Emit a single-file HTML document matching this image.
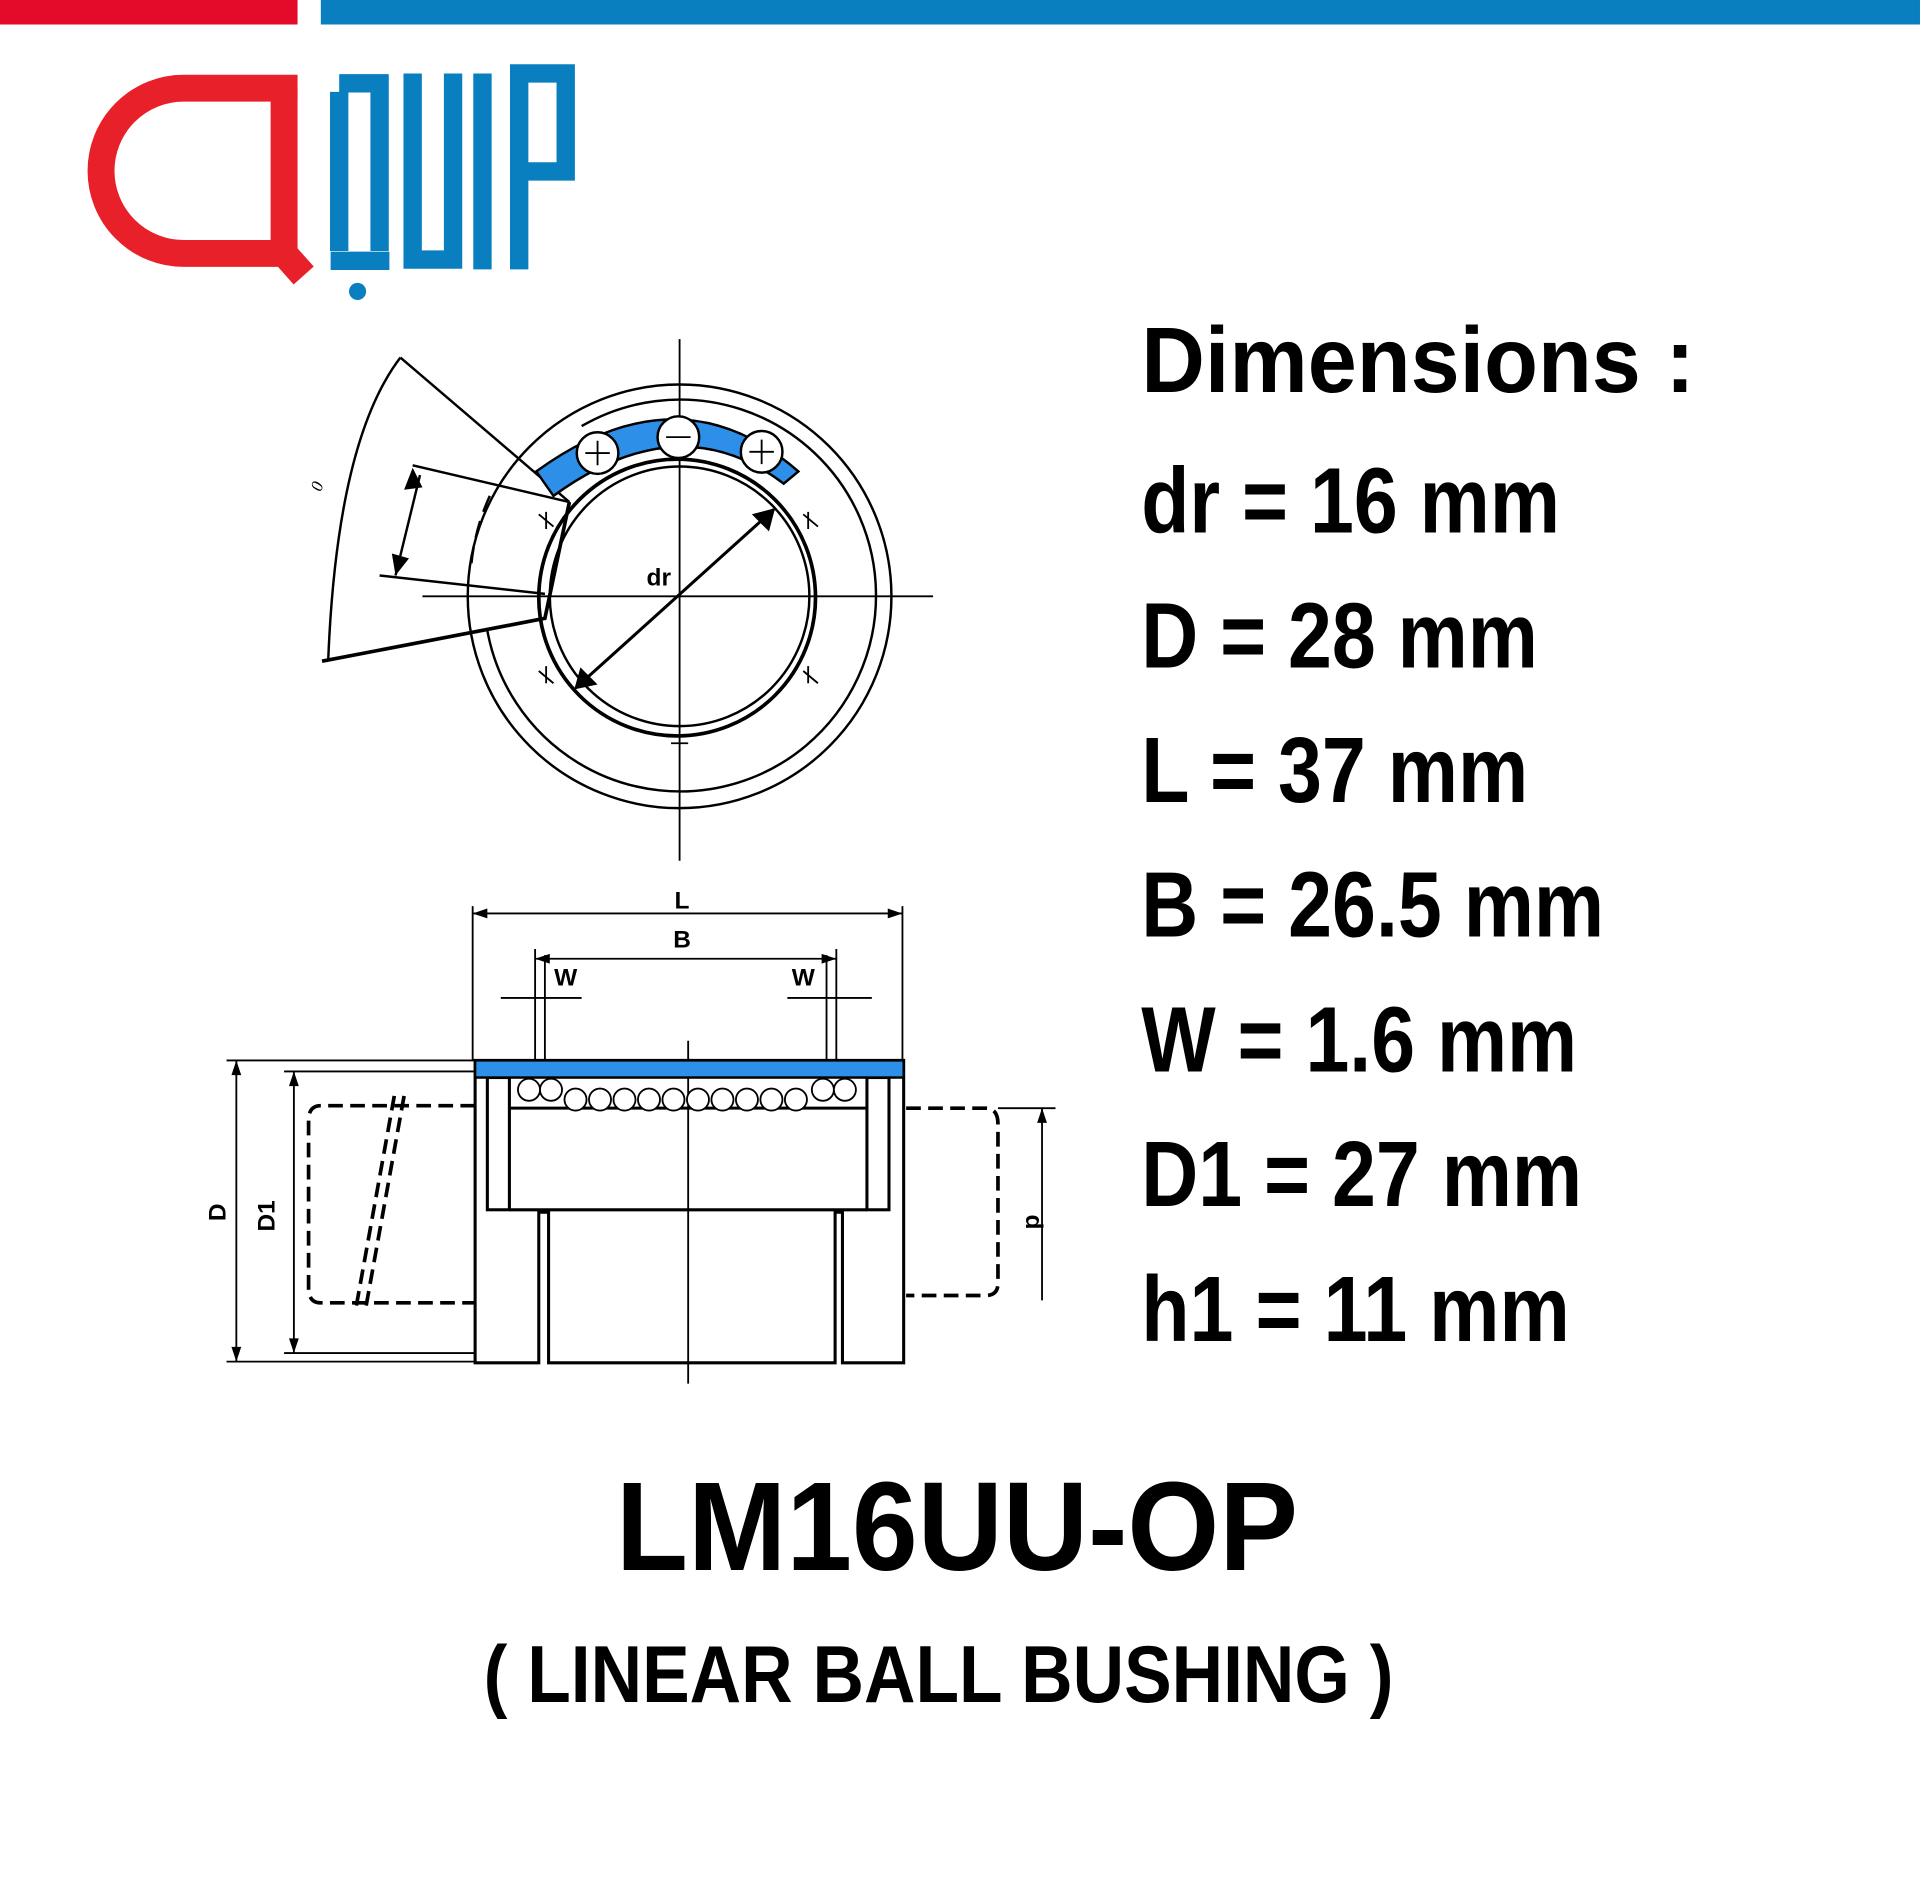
<!DOCTYPE html>
<html><head><meta charset="utf-8"><style>
html,body{margin:0;padding:0;background:#fff;}
svg{display:block}
</style></head><body>
<svg width="1920" height="1901" viewBox="0 0 1568 1552.5" xmlns="http://www.w3.org/2000/svg" font-family="Liberation Sans, sans-serif">
<rect width="1568" height="1552.5" fill="#fff"/>
<rect x="0" y="0" width="243" height="20" fill="#e30a2a"/>
<rect x="262" y="0" width="1306" height="20" fill="#0a7fc0"/>
<path d="M243 72 H150 A66 66 0 0 0 150 207 H232 L248 225" fill="none" stroke="#e8202a" stroke-width="22" stroke-linejoin="miter"/>
<line x1="232" y1="72" x2="232" y2="207" stroke="#e8202a" stroke-width="22"/>
<g fill="none" stroke="#0a7fc0" stroke-width="15">
<path d="M277 75 V205 M277 68 H310 V205 M270 213 H318"/>
<path d="M337 60 V212 H370 V60"/>
<path d="M394 60 V220"/>
<path d="M424 220 V60 H462 V140 H424"/>
</g>
<circle cx="292" cy="238" r="7" fill="#0a7fc0"/>
<g fill="none" stroke="#000" stroke-width="2">
<line x1="555" y1="277" x2="555" y2="703" stroke-width="1.5"/>
<line x1="345" y1="487" x2="762" y2="487" stroke-width="1.5"/>
<circle cx="555" cy="487" r="173"/>
<path d="M475 348 A160 160 0 1 1 398 515"/>
<path d="M400 405 A175 175 0 0 0 385 460" stroke-dasharray="14 8"/>
<circle cx="553" cy="488" r="113" stroke-width="3"/>
<circle cx="555" cy="487" r="106"/>
<path d="M327 292 L465 410"/>
<path d="M327 292 Q275 360 268 540" />
<path d="M263 540 L445 505 L465 410" stroke-width="3"/>
<path d="M337 380 L465 410 M310 470 L445 485"/>
<line x1="343" y1="388" x2="323" y2="470"/>
<line x1="470" y1="562" x2="632" y2="416" stroke-width="2.5"/>
</g>
<polygon points="337,382 330,400 345,398" fill="#000"/>
<polygon points="323,470 320,452 334,456" fill="#000"/>
<polygon points="633,415 628,434 614,420" fill="#000"/>
<polygon points="469,563 474,545 488,559" fill="#000"/>
<path d="M438 385 Q555 300 652 385 L640 395 Q555 330 452 405 Z" fill="#2e8fe8" stroke="#000" stroke-width="2"/>
<g fill="#fff" stroke="#000" stroke-width="2">
<circle cx="488" cy="370" r="17"/><circle cx="554" cy="357" r="17"/><circle cx="622" cy="369" r="17"/>
</g>
<g stroke="#000" stroke-width="1.5">
<path d="M478 370h20M488 360v20M544 357h20M612 369h20M622 359v20"/>
<path d="M440 420l12 10M446 418v14M656 420l12 10M660 418v14M440 548l12 10M446 544v14M656 548l12 10M660 544v14M548 607h14"/>
</g>
<text x="538" y="478" font-size="20" font-weight="bold" text-anchor="middle">dr</text>
<text x="262" y="402" font-size="14" font-style="italic" font-family="Liberation Serif, serif" transform="rotate(-70 262 402)">0</text>
<g fill="none" stroke="#000" stroke-width="1.5">
<line x1="386" y1="740" x2="386" y2="866"/><line x1="737" y1="740" x2="737" y2="866"/>
<line x1="386" y1="746" x2="737" y2="746"/>
<line x1="437" y1="775" x2="437" y2="866"/><line x1="683" y1="775" x2="683" y2="866"/>
<line x1="437" y1="783" x2="683" y2="783"/>
<line x1="409" y1="815" x2="475" y2="815"/><line x1="643" y1="815" x2="712" y2="815"/>
<line x1="445" y1="780" x2="445" y2="866"/><line x1="675" y1="780" x2="675" y2="866"/>
<line x1="562" y1="850" x2="562" y2="1130"/>
<line x1="185" y1="866" x2="388" y2="866"/><line x1="185" y1="1112" x2="388" y2="1112"/>
<line x1="193" y1="866" x2="193" y2="1112"/>
<line x1="232" y1="875" x2="388" y2="875"/><line x1="232" y1="1105" x2="388" y2="1105"/>
<line x1="240" y1="875" x2="240" y2="1105"/>
<line x1="815" y1="905" x2="862" y2="905"/><line x1="851" y1="905" x2="851" y2="1062"/>
</g>
<g fill="#000">
<polygon points="386,746 398,742 398,750"/><polygon points="737,746 725,742 725,750"/>
<polygon points="437,783 449,779 449,787"/><polygon points="683,783 671,779 671,787"/>
<polygon points="193,866 189,878 197,878"/><polygon points="193,1112 189,1100 197,1100"/>
<polygon points="240,875 236,887 244,887"/><polygon points="240,1105 236,1093 244,1093"/>
<polygon points="851,905 847,917 855,917"/>
</g>
<text x="557" y="742" font-size="20" font-weight="bold" text-anchor="middle">L</text>
<text x="557" y="774" font-size="20" font-weight="bold" text-anchor="middle">B</text>
<text x="462" y="805" font-size="20" font-weight="bold" text-anchor="middle">W</text>
<text x="656" y="805" font-size="20" font-weight="bold" text-anchor="middle">W</text>
<text x="184" y="990" font-size="20" font-weight="bold" text-anchor="middle" transform="rotate(-90 184 990)">D</text>
<text x="224" y="993" font-size="20" font-weight="bold" text-anchor="middle" transform="rotate(-90 224 993)">D1</text>
<text x="838" y="998" font-size="20" font-weight="bold" text-anchor="middle" transform="rotate(90 838 998)">d</text>
<g fill="none" stroke="#000" stroke-width="2.5">
<path d="M388 866 V1113 H440 V990 H448 V1113 H682 V990 H688 V1113 H738 V866 Z"/>
<rect x="398" y="880" width="18" height="108"/><rect x="708" y="880" width="18" height="108"/>
<line x1="416" y1="905" x2="708" y2="905"/>
<line x1="416" y1="988" x2="708" y2="988"/>
</g>
<rect x="388" y="866" width="350" height="14" fill="#2e8fe8" stroke="#000" stroke-width="2"/>
<g fill="#fff" stroke="#000" stroke-width="1.5">
<circle cx="432" cy="890" r="9"/><circle cx="450" cy="890" r="9"/><circle cx="470" cy="898" r="9"/><circle cx="490" cy="898" r="9"/><circle cx="510" cy="898" r="9"/><circle cx="530" cy="898" r="9"/><circle cx="550" cy="898" r="9"/><circle cx="570" cy="898" r="9"/><circle cx="590" cy="898" r="9"/><circle cx="610" cy="898" r="9"/><circle cx="630" cy="898" r="9"/><circle cx="650" cy="898" r="9"/><circle cx="672" cy="890" r="9"/><circle cx="690" cy="890" r="9"/>
</g>
<g fill="none" stroke="#000" stroke-width="3" stroke-dasharray="12 6">
<path d="M388 903 H262 Q252 903 252 915 V1052 Q252 1064 262 1064 H388"/>
<path d="M740 905 H805 Q815 905 815 918 V1048 Q815 1058 805 1058 H740"/>
<path d="M322 895 L290 1072 M330 895 L298 1072"/>
</g>
<g font-weight="bold" fill="#000">
<text x="932" y="320" font-size="76" textLength="452" lengthAdjust="spacingAndGlyphs">Dimensions :</text>
<text x="932" y="435" font-size="76" textLength="342" lengthAdjust="spacingAndGlyphs">dr = 16 mm</text>
<text x="932" y="545" font-size="76" textLength="324" lengthAdjust="spacingAndGlyphs">D = 28 mm</text>
<text x="932" y="655" font-size="76" textLength="316" lengthAdjust="spacingAndGlyphs">L = 37 mm</text>
<text x="932" y="765" font-size="76" textLength="378" lengthAdjust="spacingAndGlyphs">B = 26.5 mm</text>
<text x="932" y="875" font-size="76" textLength="356" lengthAdjust="spacingAndGlyphs">W = 1.6 mm</text>
<text x="932" y="985" font-size="76" textLength="360" lengthAdjust="spacingAndGlyphs">D1 = 27 mm</text>
<text x="932" y="1095" font-size="76" textLength="350" lengthAdjust="spacingAndGlyphs">h1 = 11 mm</text>
<text x="503" y="1282" font-size="103" textLength="557" lengthAdjust="spacingAndGlyphs">LM16UU-OP</text>
<text x="395" y="1390" font-size="66" textLength="743" lengthAdjust="spacingAndGlyphs">( LINEAR BALL BUSHING )</text>
</g>
</svg>
</body></html>
